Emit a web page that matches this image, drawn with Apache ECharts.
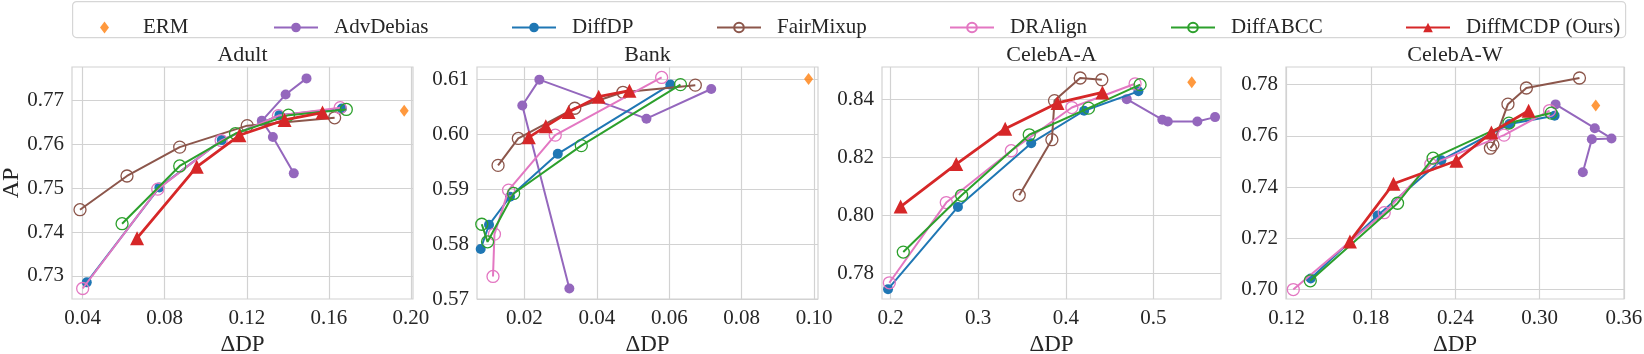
<!DOCTYPE html>
<html>
<head>
<meta charset="utf-8">
<script src="https://cdn.jsdelivr.net/npm/echarts@6/dist/echarts.min.js"></script>
<style>
html, body { margin: 0; padding: 0; background: #fff; }
#main { width: 1644px; height: 354px; }
</style>
</head>
<body>
<div id="main"></div>
<script>
// legend / series names
const methods = ['ERM', 'AdvDebias', 'DiffDP', 'FairMixup', 'DRAlign', 'DiffABCC', 'DiffMCDP (Ours)']
const datasets = ['Adult', 'Bank', 'CelebA-A', 'CelebA-W']

// [ΔDP, AP] pairs
const adultERM = [[0.1967, 0.7677]]
const adultAdvDebias = [[0.1429, 0.7534], [0.1327, 0.7617], [0.1273, 0.7654], [0.1389, 0.7714], [0.1491, 0.7751]]
const adultDiffDP = [[0.0420, 0.7285], [0.0774, 0.7502], [0.1078, 0.7610], [0.1359, 0.7667], [0.1663, 0.7682]]
const adultFairMixup = [[0.0387, 0.7451], [0.0616, 0.7528], [0.0873, 0.7594], [0.1202, 0.7643], [0.1628, 0.7661]]
const adultDRAlign = [[0.0400, 0.7271], [0.0766, 0.7498], [0.1075, 0.7609], [0.1354, 0.7666], [0.1655, 0.7684]]
const adultDiffABCC = [[0.0592, 0.7419], [0.0873, 0.7551], [0.1145, 0.7625], [0.1403, 0.7667], [0.1685, 0.7680]]
const adultDiffMCDP = [[0.0665, 0.7386], [0.0956, 0.7549], [0.1164, 0.7621], [0.1384, 0.7656], [0.1569, 0.7673]]

const bankERM = [[0.0985, 0.6100]]
const bankAdvDebias = [[0.0324, 0.5719], [0.0194, 0.6052], [0.0241, 0.6099], [0.0537, 0.6028], [0.0716, 0.6082]]
const bankDiffDP = [[0.0079, 0.5791], [0.0102, 0.5835], [0.0160, 0.5886], [0.0292, 0.5964], [0.0603, 0.6090]]
const bankFairMixup = [[0.0127, 0.5943], [0.0183, 0.5992], [0.0339, 0.6047], [0.0472, 0.6076], [0.0672, 0.6089]]
const bankDRAlign = [[0.0113, 0.5741], [0.0117, 0.5818], [0.0156, 0.5898], [0.0285, 0.5998], [0.0579, 0.6103]]
const bankDiffABCC = [[0.0082, 0.5836], [0.0098, 0.5804], [0.0170, 0.5892], [0.0357, 0.5979], [0.0631, 0.6090]]
const bankDiffMCDP = [[0.0212, 0.5994], [0.0259, 0.6014], [0.0322, 0.6040], [0.0405, 0.6068], [0.0490, 0.6079]]

const celebaAERM = [[0.5438, 0.8460]]
const celebaAAdvDebias = [[0.4696, 0.8402], [0.5102, 0.8331], [0.5164, 0.8325], [0.5502, 0.8325], [0.5704, 0.8340]]
const celebaADiffDP = [[0.1970, 0.7746], [0.2768, 0.8030], [0.3605, 0.8250], [0.4209, 0.8362], [0.4829, 0.8429]]
const celebaAFairMixup = [[0.3468, 0.8070], [0.3841, 0.8262], [0.3871, 0.8397], [0.4164, 0.8475], [0.4411, 0.8469]]
const celebaADRAlign = [[0.1985, 0.7768], [0.2635, 0.8045], [0.3377, 0.8224], [0.4069, 0.8373], [0.4791, 0.8455]]
const celebaADiffABCC = [[0.2144, 0.7874], [0.2810, 0.8070], [0.3582, 0.8279], [0.4259, 0.8371], [0.4848, 0.8452]]
const celebaADiffMCDP = [[0.2114, 0.8031], [0.2749, 0.8178], [0.3308, 0.8300], [0.3905, 0.8389], [0.4418, 0.8425]]

const celebaWERM = [[0.3400, 0.7719]]
const celebaWAdvDebias = [[0.3308, 0.7458], [0.3372, 0.7587], [0.3512, 0.7590], [0.3393, 0.7630], [0.3114, 0.7723]]
const celebaWDiffDP = [[0.1371, 0.7043], [0.1847, 0.7289], [0.2301, 0.7505], [0.2785, 0.7646], [0.3107, 0.7679]]
const celebaWFairMixup = [[0.2650, 0.7552], [0.2668, 0.7565], [0.2775, 0.7724], [0.2906, 0.7787], [0.3284, 0.7826]]
const celebaWDRAlign = [[0.1247, 0.7000], [0.1894, 0.7300], [0.2226, 0.7489], [0.2747, 0.7603], [0.3071, 0.7699]]
const celebaWDiffABCC = [[0.1368, 0.7034], [0.1989, 0.7337], [0.2242, 0.7513], [0.2782, 0.7650], [0.3083, 0.7689]]
const celebaWDiffMCDP = [[0.1650, 0.7188], [0.1960, 0.7413], [0.2408, 0.7503], [0.2657, 0.7613], [0.2922, 0.7698]]

// tick labels
const adultXTicks = ['0.04', '0.08', '0.12', '0.16', '0.20']
const adultYTicks = ['0.73', '0.74', '0.75', '0.76', '0.77']
const bankXTicks = ['0.02', '0.04', '0.06', '0.08', '0.10']
const bankYTicks = ['0.57', '0.58', '0.59', '0.60', '0.61']
const celebaAXTicks = ['0.2', '0.3', '0.4', '0.5']
const celebaAYTicks = ['0.78', '0.80', '0.82', '0.84']
const celebaWXTicks = ['0.12', '0.18', '0.24', '0.30', '0.36']
const celebaWYTicks = ['0.70', '0.72', '0.74', '0.76', '0.78']

const panelData = [
  [adultERM, adultAdvDebias, adultDiffDP, adultFairMixup, adultDRAlign, adultDiffABCC, adultDiffMCDP],
  [bankERM, bankAdvDebias, bankDiffDP, bankFairMixup, bankDRAlign, bankDiffABCC, bankDiffMCDP],
  [celebaAERM, celebaAAdvDebias, celebaADiffDP, celebaAFairMixup, celebaADRAlign, celebaADiffABCC, celebaADiffMCDP],
  [celebaWERM, celebaWAdvDebias, celebaWDiffDP, celebaWFairMixup, celebaWDRAlign, celebaWDiffABCC, celebaWDiffMCDP]
]
const panelTicks = [
  [adultXTicks, adultYTicks],
  [bankXTicks, bankYTicks],
  [celebaAXTicks, celebaAYTicks],
  [celebaWXTicks, celebaWYTicks]
]

// layout (px) and axis limits
const lefts = [72, 477, 882, 1286]
const widths = [341, 341, 339, 338]
const gridTop = 67
const gridH = 232
const xLims = [[0.0348, 0.201], [0.00688, 0.1011], [0.1901, 0.5772], [0.1195, 0.3601]]
const yLims = [[0.7247, 0.7777], [0.57, 0.6122], [0.7712, 0.8513], [0.6963, 0.7869]]

const colors = ['#ff7f0e', '#9467bd', '#1f77b4', '#8c564b', '#e377c2', '#2ca02c', '#d62728']
const hollow = [false, false, false, true, true, true, false]
const symbols = ['diamond', 'circle', 'circle', 'circle', 'circle', 'circle', 'triangle']
const symSizes = [[9, 12], 10, 10, 12, 12, 12, 14]

const FONT = '"Liberation Serif", "Times New Roman", serif'
const TXT = '#262626'
const GRIDC = '#d2d2d2'

var grids = []
var xAxes = []
var yAxes = []
var series = []
var graphics = []

for (let p = 0; p < 4; p++) {
  grids.push({
    left: lefts[p], top: gridTop, width: widths[p], height: gridH,
    show: true, borderColor: GRIDC, borderWidth: 1.2,
    outerBoundsMode: 'none'
  })
  const xt = panelTicks[p][0]
  const yt = panelTicks[p][1]
  xAxes.push({
    type: 'value', gridIndex: p, min: xLims[p][0], max: xLims[p][1],
    name: 'ΔDP', nameLocation: 'middle', nameGap: 34,
    nameTextStyle: { fontFamily: FONT, fontSize: 23, color: TXT },
    axisLine: { show: false },
    axisTick: { show: false, customValues: xt.map(Number) },
    splitLine: { show: true, lineStyle: { color: GRIDC, width: 1.2 } },
    axisLabel: {
      customValues: xt.map(Number), margin: 9,
      fontFamily: FONT, fontSize: 21, color: TXT,
      formatter: v => xt[xt.map(Number).indexOf(v)] || ''
    }
  })
  yAxes.push({
    type: 'value', gridIndex: p, min: yLims[p][0], max: yLims[p][1],
    name: p === 0 ? 'AP' : '', nameLocation: 'middle', nameGap: 46,
    nameTextStyle: { fontFamily: FONT, fontSize: 24, color: TXT },
    axisLine: { show: false },
    axisTick: { show: false, customValues: yt.map(Number) },
    splitLine: { show: true, lineStyle: { color: GRIDC, width: 1.2 } },
    axisLabel: {
      customValues: yt.map(Number), margin: 8,
      fontFamily: FONT, fontSize: 21, color: TXT,
      formatter: v => yt[yt.map(Number).indexOf(v)] || ''
    }
  })
  for (let m = 0; m < methods.length; m++) {
    const c = colors[m]
    const s = {
      name: methods[m],
      type: m === 0 ? 'scatter' : 'line',
      xAxisIndex: p, yAxisIndex: p,
      data: panelData[p][m],
      symbol: symbols[m],
      symbolSize: symSizes[m],
      itemStyle: hollow[m]
        ? { color: 'rgba(255,255,255,0)', borderColor: c, borderWidth: 1.3 }
        : { color: c },
      z: 2 + m
    }
    if (m > 0) {
      s.showSymbol = true
      s.showAllSymbol = true
      s.lineStyle = { color: c, width: m === 6 ? 2.8 : 2 }
      s.emphasis = { disabled: true }
    }
    series.push(s)
  }
  graphics.push({
    type: 'text', x: lefts[p] + widths[p] / 2, y: 55,
    style: { text: datasets[p], font: '22px ' + FONT, fill: TXT, textAlign: 'center', textVerticalAlign: 'middle' }
  })
}

// legend frame
graphics.push({
  type: 'rect', left: 72, top: 1, z: -1,
  shape: { width: 1553, height: 36, r: 4 },
  style: { fill: '#fff', stroke: '#d6d6d6', lineWidth: 1.2 }
})

// one legend per entry, placed where the columns sit
const legendLefts = [95, 268, 506, 711, 944, 1165, 1400]
var legends = methods.map((name, i) => ({
  data: [name],
  left: legendLefts[i], top: 12,
  itemWidth: i === 0 ? 9 : 44, itemHeight: 12,
  textStyle: { fontFamily: FONT, fontSize: 21, color: TXT, padding: [0, 0, 0, i === 0 ? 29 : 11] },
  selectedMode: false
}))

var myChart = echarts.init(document.getElementById('main'), null, { renderer: 'canvas' })
var option = {
  animation: false,
  backgroundColor: '#fff',
  textStyle: { fontFamily: FONT },
  legend: legends,
  grid: grids,
  xAxis: xAxes,
  yAxis: yAxes,
  series: series,
  graphic: graphics
}
myChart.setOption(option)
</script>
</body>
</html>
